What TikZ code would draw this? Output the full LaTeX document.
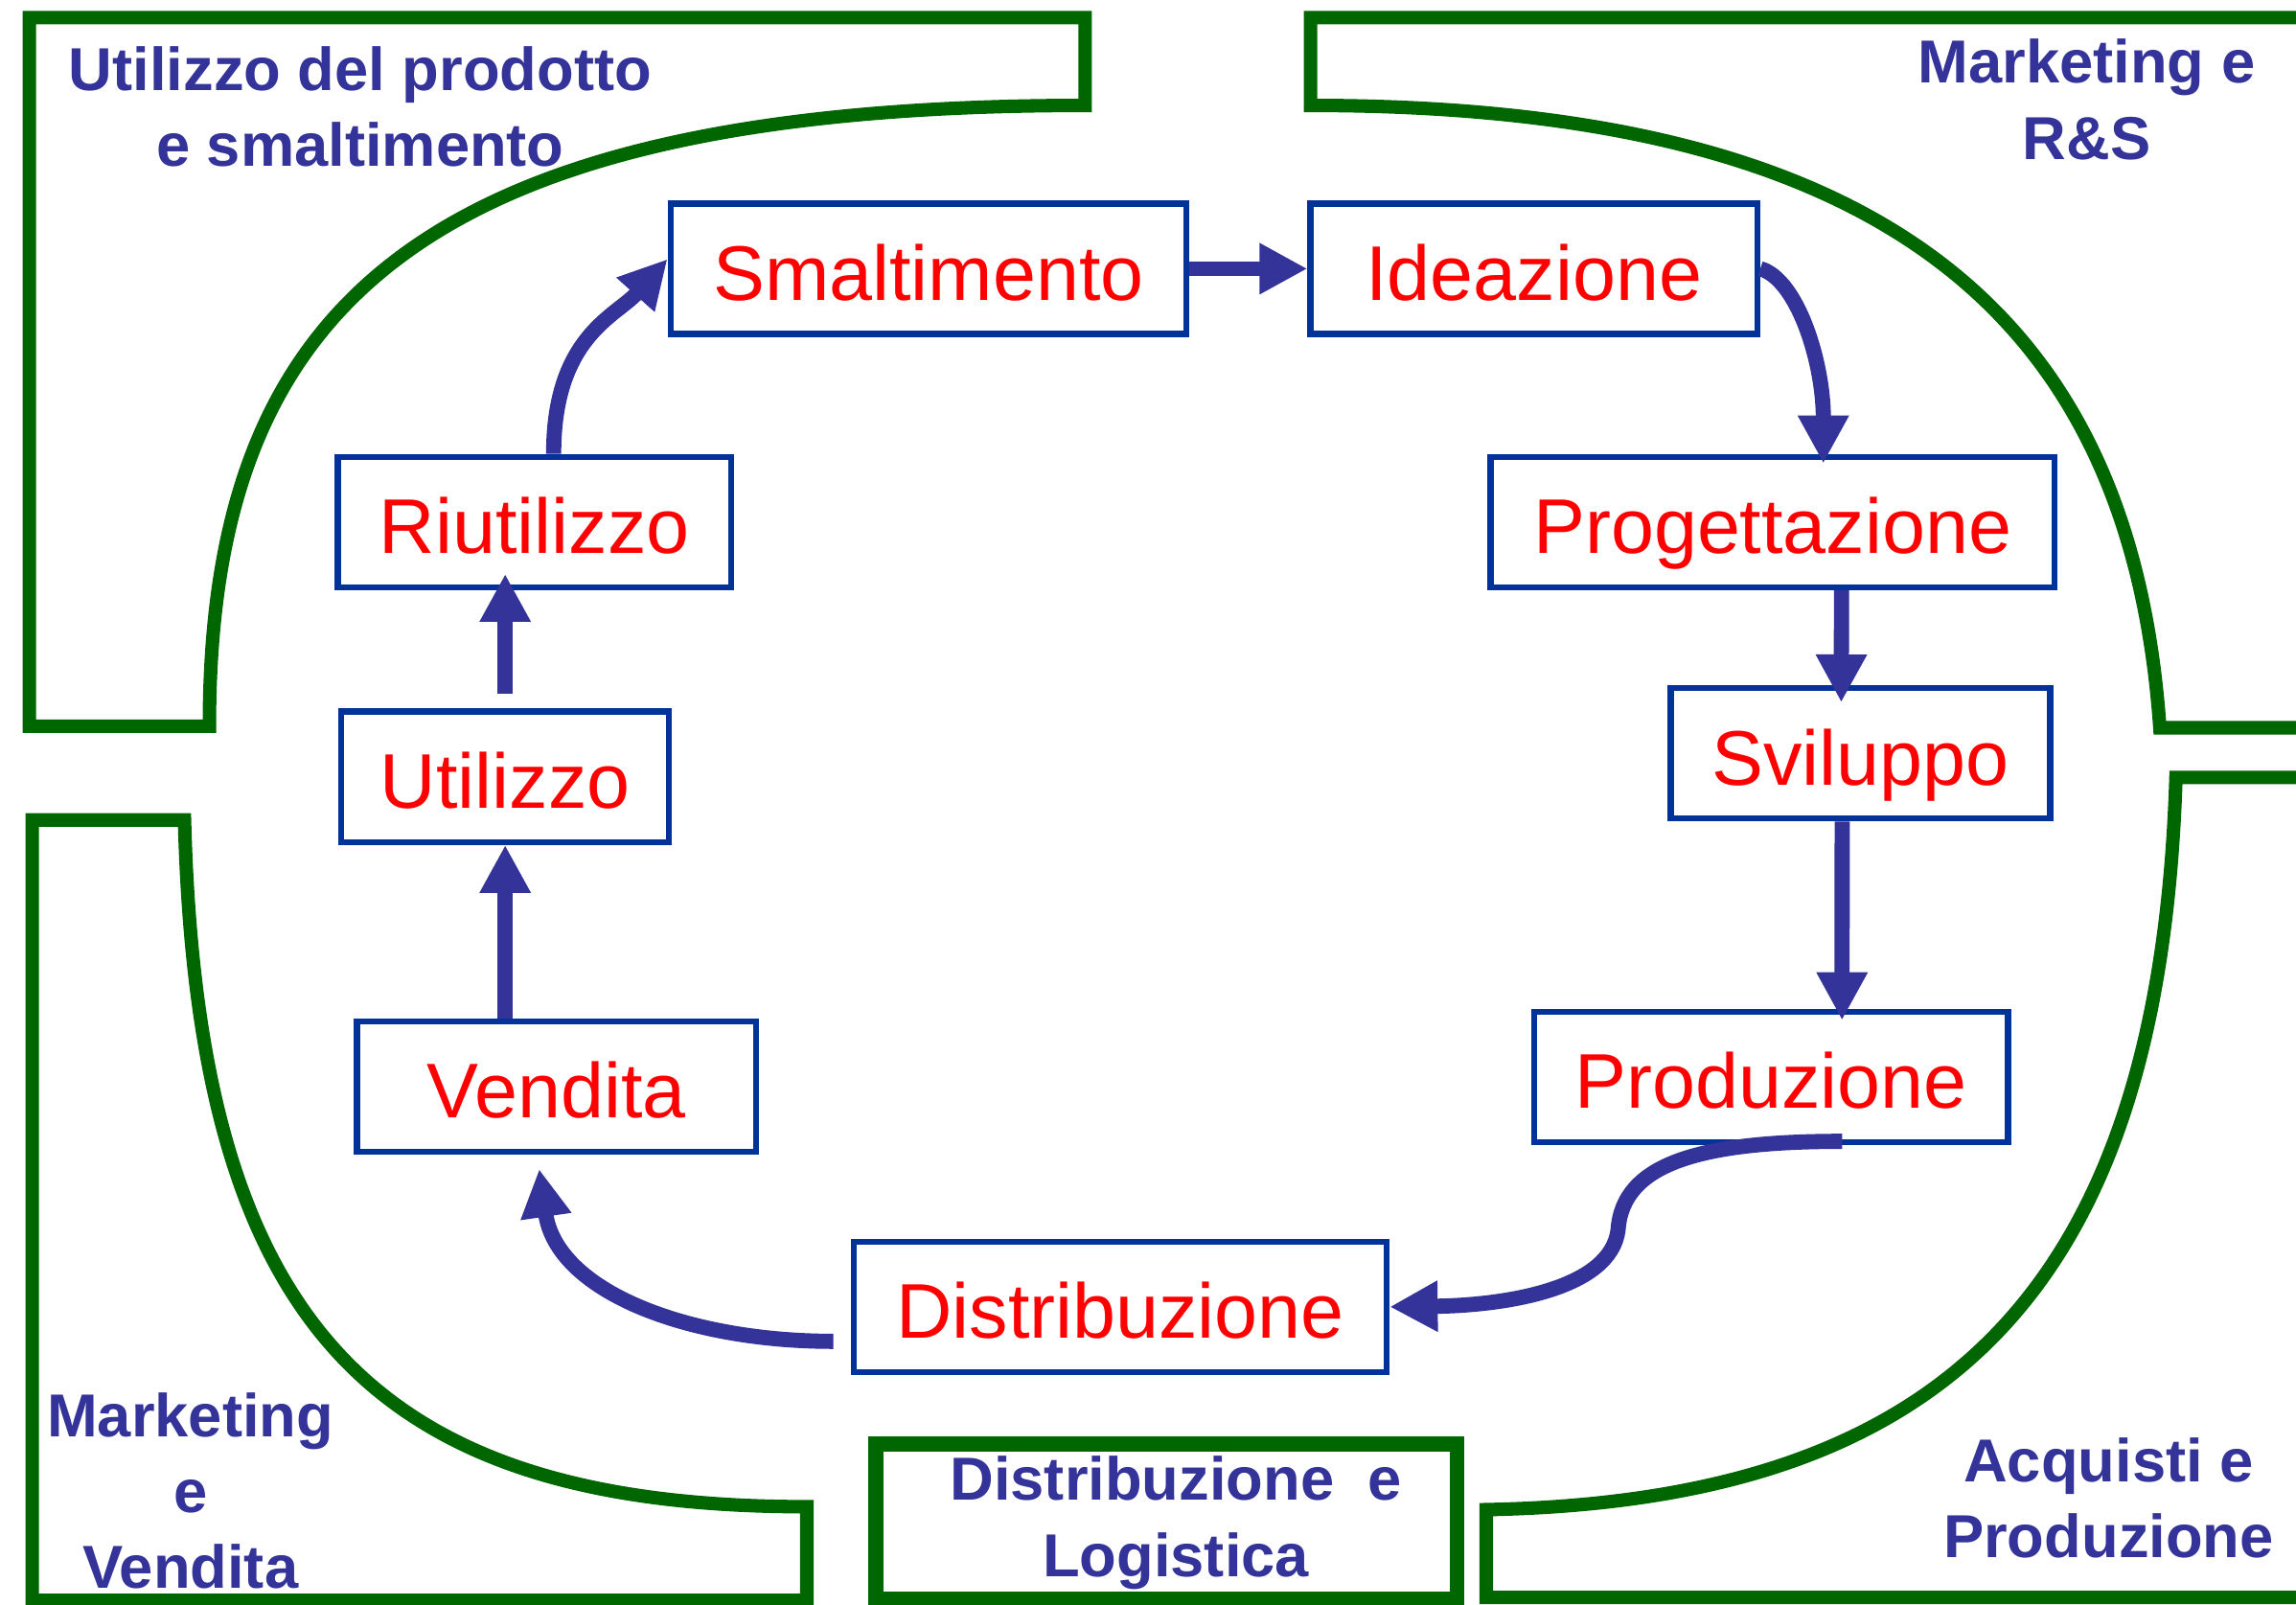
\documentclass[tikz,border=0pt]{standalone}
\usepackage{fontspec}
\setmainfont{Liberation Sans}
\usetikzlibrary{arrows.meta}
\definecolor{boxblue}{RGB}{0,51,153}
\definecolor{arrowblue}{RGB}{51,51,153}
\definecolor{framegreen}{RGB}{0,102,0}
\tikzset{
	stage/.style={draw=boxblue, line width=1.8pt, text=red, font=\fontsize{23}{27}\selectfont, minimum height=1.36cm, inner sep=0pt, text height=18.7pt, text depth=0pt},
	area/.style={text=arrowblue, font=\bfseries\fontsize{18}{22.5}\selectfont, align=center, inner sep=0pt},
	frame/.style={draw=framegreen, line width=4pt},
	flow/.style={draw=arrowblue, line width=4.5pt, -{Triangle[length=0.5cm,width=0.5cm]}}
}
\begin{document}
\begin{tikzpicture}[x=0.01528cm, y=-0.01528cm]
	\useasboundingbox (0,0) rectangle (1568,1096);
	\draw[frame] (143,496) -- (20,496) -- (20,12) -- (741,12) -- (741,72) .. controls (280,72) and (143,215) .. cycle;
	\draw[frame] (1580,12) -- (895,12) -- (895,72) .. controls (1280,72) and (1455,210) .. (1475,497) -- (1580,497);
	\draw[frame] (1580,531) -- (1486,531) .. controls (1475,880) and (1330,1025) .. (1015,1031) -- (1015,1091) -- (1580,1091);
	\draw[frame] (126,560) -- (22,560) -- (22,1093) -- (551,1093) -- (551,1029) .. controls (250,1029) and (135,900) .. cycle;
	\draw[frame, line width=4.5pt] (598,986) rectangle (995,1092);
	\node[area] (usage) at (246,73) {Utilizzo del prodotto\\e smaltimento};
	\node[area] (research) at (1425,68) {Marketing e\\R\&S};
	\node[area] (sales) at (130,1018) {Marketing\\e\\Vendita};
	\node[area] (logistics) at (803,1040) {Distribuzione\ \ e\\Logistica};
	\node[area] (purchase) at (1440,1023) {Acquisti e\\Produzione};
	\node[stage, minimum width=5.38cm] (smaltimento) at (634,183.5) {Smaltimento};
	\node[stage, minimum width=4.66cm] (ideazione) at (1047.5,183.5) {Ideazione};
	\node[stage, minimum width=5.88cm] (progettazione) at (1210.5,356.5) {Progettazione};
	\node[stage, minimum width=3.96cm] (sviluppo) at (1270.5,514.5) {Sviluppo};
	\node[stage, minimum width=4.94cm] (produzione) at (1209.5,735.5) {Produzione};
	\node[stage, minimum width=5.56cm] (distribuzione) at (765,892.5) {Distribuzione};
	\node[stage, minimum width=4.16cm] (vendita) at (380,742) {Vendita};
	\node[stage, minimum width=3.42cm] (utilizzo) at (345,530.5) {Utilizzo};
	\node[stage, minimum width=4.10cm] (riutilizzo) at (365,356.5) {Riutilizzo};
	\draw[flow] ([xshift=0.2cm]riutilizzo.north) .. controls +(0,-80) and +(-35,39) .. ([yshift=0.1cm]smaltimento.west);
	\draw[flow] (smaltimento.east) -- (ideazione.west);
	\draw[flow] (ideazione.east) .. controls +(25,7) and +(0,-70) .. ([xshift=0.53cm,yshift=-0.1cm]progettazione.north);
	\draw[flow] ([xshift=0.72cm]progettazione.south) -- ([xshift=-0.2cm,yshift=-0.18cm]sviluppo.north);
	\draw[flow] ([xshift=-0.19cm]sviluppo.south) -- ([xshift=0.74cm,yshift=-0.12cm]produzione.north);
	\coordinate (bend) at (1105,840);
	\draw[flow] ([xshift=0.74cm,yshift=0.04cm]produzione.south) .. controls +(-98,0) and +(3,-45) .. (bend) .. controls +(-5,40) and +(80,-1) .. (distribuzione.east);
	\draw[flow] ([xshift=-0.18cm,yshift=-0.36cm]distribuzione.west) .. controls +(-101,0) and +(12,83) .. ([xshift=-0.18cm,yshift=-0.15cm]vendita.south);
	\draw[flow] (vendita.north -| utilizzo.south) -- (utilizzo.south);
	\draw[flow, shorten >=-0.17cm] ([yshift=0.15cm]utilizzo.north) -- (riutilizzo.south -| utilizzo.north);
\end{tikzpicture}
\end{document}
